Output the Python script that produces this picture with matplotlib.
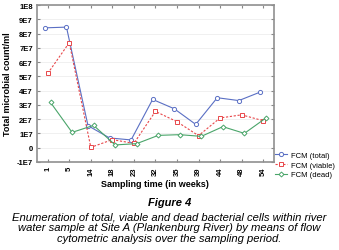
import matplotlib
matplotlib.use("Agg")
import matplotlib.pyplot as plt
import numpy as np

plt.rcParams['font.family'] = ['Liberation Sans', 'DejaVu Sans']

# =====================================================
# DATA
# =====================================================

weeks = ['1', '5', '14', '18', '23', '32', '35', '39', '44', '48', '54']

fcm_total = [8.4e7, 8.45e7, 1.54e7, 0.68e7, 0.54e7, 3.38e7, 2.73e7, 1.63e7, 3.5e7, 3.3e7, 3.9e7]
fcm_viable = [5.2e7, 7.36e7, 0.02e7, 0.56e7, 0.3e7, 2.54e7, 1.82e7, 0.84e7, 2.08e7, 2.3e7, 1.89e7]
fcm_dead = [3.17e7, 1.07e7, 1.56e7, 0.19e7, 0.28e7, 0.86e7, 0.91e7, 0.79e7, 1.47e7, 1.0e7, 2.08e7]

y_ticks = np.arange(-1e7, 1.01e8, 1e7)
y_labels = ['-1E7', '0', '1E7', '2E7', '3E7', '4E7', '5E7', '6E7', '7E7', '8E7', '9E7', '1E8']

caption = ("Enumeration of total, viable and dead bacterial cells within river\n"
           "water sample at Site A (Plankenburg River) by means of flow\n"
           "cytometric analysis over the sampling period.")

# =====================================================
# PLOT
# =====================================================

fig = plt.figure(figsize=(3.39, 2.51), dpi=100)
ax = fig.add_axes([0.109, 0.351, 0.699, 0.625])

x = np.arange(len(weeks))

ax.plot(x - 0.13, fcm_total, color='#5a6fc4', lw=0.8, marker='o', ms=3,
        mfc='white', mec='#5a6fc4', mew=0.7, label='FCM (total)')
ax.plot(x, fcm_viable, color='#e8474a', lw=0.8, ls=(0, (2, 1.5)), marker='s', ms=3,
        mfc='white', mec='#e8474a', mew=0.7, label='FCM (viable)')
ax.plot(x + 0.13, fcm_dead, color='#4aa56a', lw=0.8, marker='D', ms=2.5,
        mfc='white', mec='#4aa56a', mew=0.7, label='FCM (dead)')

ax.set_xlim(-0.5, len(weeks) - 0.5)
ax.set_ylim(-1e7, 1e8)
ax.set_yticks(y_ticks)
ax.set_yticklabels(y_labels, fontsize=5.5, fontweight='bold')
ax.set_xticks(x)
ax.set_xticklabels(weeks, fontsize=5.5, fontweight='bold', rotation=90)

ax.yaxis.grid(True, color='#eeeeee', lw=0.6)
ax.set_axisbelow(True)

ax.tick_params(direction='in', length=2, width=0.8, color='#888888',
               top=True, right=True, pad=3)
for s in ax.spines.values():
    s.set_color('#909090')
    s.set_linewidth(1.2)

ax.set_xlabel("Sampling time (in weeks)", fontsize=6.5, fontweight='bold', labelpad=3)
ax.set_ylabel("Total microbial count/ml", fontsize=6.5, fontweight='bold', labelpad=3)

ax.legend(loc='upper left', bbox_to_anchor=(1.005, 0.065), frameon=False,
          fontsize=5.5, handlelength=1.6, handletextpad=0.45, labelspacing=0.3,
          borderaxespad=0, borderpad=0)

fig.text(0.5, 0.19, "Figure 4", ha='center', va='center', fontsize=8,
         fontweight='bold', style='italic')
fig.text(0.5, 0.09, caption, ha='center', va='center', fontsize=8.1,
         style='italic', linespacing=1.08)

fig.savefig("out.png", dpi=100)
